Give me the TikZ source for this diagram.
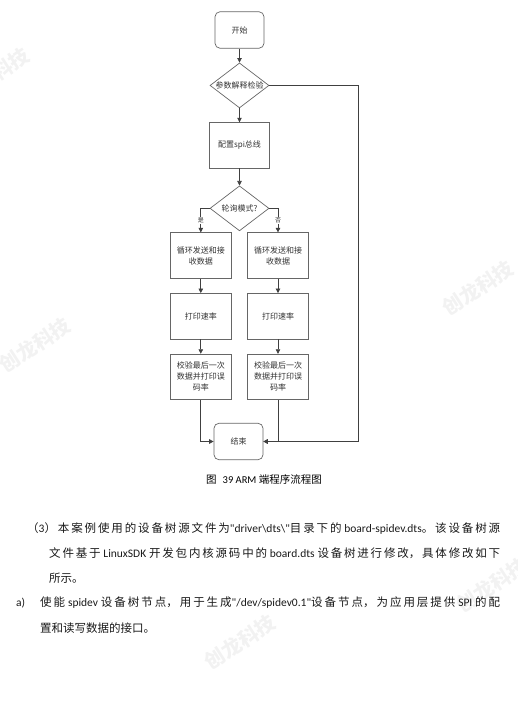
\documentclass[tikz,border=0pt]{standalone}
\usepackage{fontspec}
\setmainfont{Noto Sans CJK SC}
\newfontfamily\latinfont{Carlito}
\newcommand\lat[1]{\XeTeXlinebreaklocale ""\relax{\latinfont #1}\XeTeXlinebreaklocale "zh"\relax}
\usetikzlibrary{positioning, shapes.geometric, arrows.meta}

\XeTeXlinebreaklocale "zh"
\XeTeXlinebreakskip=0pt plus 10pt

\begin{document}
\begin{tikzpicture}[
    x=1pt, y=-1pt,
    >={Triangle[length=4.5pt,width=4.5pt]},
    node distance=14pt,
    arrow/.style={
        ->,
        draw=black!75,
        line width=0.7pt
    },
    term/.style={
        rectangle,
        rounded corners=5pt,
        draw=black!60,
        line width=0.7pt,
        minimum width=49pt,
        minimum height=36.5pt,
        text=black!80,
        font=\fontsize{8}{10}\selectfont
    },
    proc/.style={
        rectangle,
        draw=black!60,
        line width=0.7pt,
        minimum width=60.5pt,
        minimum height=45.5pt,
        align=center,
        text=black!80,
        font=\fontsize{8}{11}\selectfont
    },
    decision/.style={
        diamond,
        aspect=1.31,
        inner sep=0pt,
        minimum width=59pt,
        minimum height=45pt,
        draw=black!60,
        line width=0.7pt,
        text=black!80,
        font=\fontsize{8}{10}\selectfont
    },
    branch/.style={
        fill=white,
        inner sep=0.6pt,
        text=black!80,
        font=\fontsize{6}{7}\selectfont
    },
    body/.style={
        anchor=west,
        inner sep=0pt,
        text=black!90,
        font=\fontsize{11.5}{13}\selectfont
    },
    fullline/.style={
        body,
        text width=#1,
        align=justify,
        execute at begin node={\noindent\tolerance=10000\parfillskip=0pt}
    },
    watermark/.style={
        rotate=33,
        text=black!5,
        font=\fontsize{20}{20}\selectfont\bfseries
    }
]
\useasboundingbox (0,0) rectangle (517,708);

    % Watermarks
    \node[watermark] (wm1) at (-6,75) {创龙科技};
    \node[watermark] (wm2) at (478,288) {创龙科技};
    \node[watermark] (wm3) at (35,345) {创龙科技};
    \node[watermark] (wm4) at (492,585) {创龙科技};
    \node[watermark] (wm5) at (240,642) {创龙科技};

    % Start and argument check
    \node[term] (start) at (239.5,30) {开始};
    \node[decision, below=of start] (check) {参数解释检验};
    \draw[arrow] (start) -- (check);

    % Bus setup
    \node[proc, below=of check] (config) {配置spi总线};
    \draw[arrow] (check) -- (config);

    % Polling?
    \node[decision, below=17pt of config] (mode) {轮询模式?};
    \draw[arrow] (config) -- (mode);

    % --- Left column (yes) ---
    \node[proc] (send1) at (200.8,255.5) {循环发送和接\\收数据};
    \node[proc, below=14.5pt of send1] (rate1) {打印速率};
    \node[proc, below=14.5pt of rate1] (verify1) {校验最后一次\\数据并打印误\\码率};
    \draw[arrow] (mode.west) -| node[branch, pos=0.75] {是} (send1.north);
    \draw[arrow] (send1) -- (rate1);
    \draw[arrow] (rate1) -- (verify1);

    % --- Right column (no) ---
    \node[proc] (send2) at (278,255.5) {循环发送和接\\收数据};
    \node[proc, below=14.5pt of send2] (rate2) {打印速率};
    \node[proc, below=14.5pt of rate2] (verify2) {校验最后一次\\数据并打印误\\码率};
    \draw[arrow] (mode.east) -| node[branch, pos=0.75] {否} (send2.north);
    \draw[arrow] (send2) -- (rate2);
    \draw[arrow] (rate2) -- (verify2);

    % End
    \node[term] (finish) at (238.5,441.5) {结束};
    \coordinate (loop) at (358,441.5);
    \draw[arrow] (verify1.south) |- (finish.west);
    \draw[arrow] (verify2.south) |- (finish.east);
    \draw[arrow] (check.east) -| (loop) -- (finish.east);

    % Caption
    \node[inner sep=0pt, font=\fontsize{10.5}{12}\selectfont] (caption) at (264,479)
        {图\hspace{6pt}\lat{39 ARM} 端程序流程图};

    % Text below the figure
    \node[fullline=473pt] (par1) at (27,528) {（\lat{3}）本案例使用的设备树源文件为\lat{"driver\textbackslash dts\textbackslash"}目录下的 \lat{board-spidev.dts}。该设备树源};
    \node[fullline=451pt] (par2) at (49,553) {文件基于 \lat{LinuxSDK} 开发包内核源码中的 \lat{board.dts} 设备树进行修改，具体修改如下};
    \node[body] (par3) at (49,578) {所示。};
    \node[body] (itema) at (16,603) {\lat{a)}};
    \node[fullline=460pt] (par4) at (40,603) {使能 \lat{spidev} 设备树节点，用于生成\lat{"/dev/spidev0.1"}设备节点，为应用层提供 \lat{SPI} 的配};
    \node[body] (par5) at (40,628) {置和读写数据的接口。};

\end{tikzpicture}
\end{document}
